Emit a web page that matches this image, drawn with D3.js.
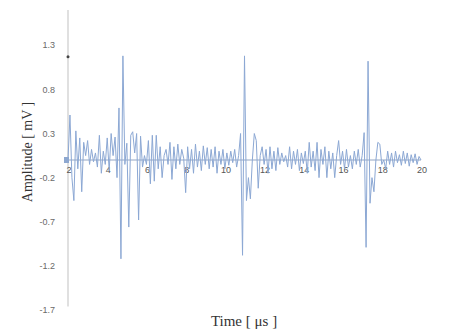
<!DOCTYPE html>
<html><head><meta charset="utf-8">
<script src="https://cdn.jsdelivr.net/npm/d3@7"></script>
<style>body{margin:0;background:#fff}svg{display:block}</style>
</head><body>
<svg id="c" width="455" height="334"></svg>
<script>
const tStart = 2, tStep = 0.1;
const amplitude = [
 0.0,0.51,-0.2,-0.46,0.33,-0.1,0.25,-0.36,0.2,0.05,
 0.22,-0.05,0.12,-0.02,0.08,-0.08,0.28,-0.15,0.1,-0.05,
 0.25,-0.12,0.3,0.05,0.26,-0.2,0.59,-1.12,1.18,-0.05,
 0.19,-0.76,0.28,0.32,0.08,0.3,-0.68,0.27,-0.08,0.05,
 -0.05,0.22,-0.27,0.28,-0.24,0.28,-0.1,0.15,-0.2,0.05,
 0.12,-0.05,0.2,-0.22,0.15,-0.1,0.18,-0.05,0.12,0.02,
 -0.37,0.15,-0.1,0.12,-0.15,0.18,-0.08,0.1,-0.12,0.16,
 -0.05,0.14,-0.1,0.12,-0.08,0.15,-0.15,0.1,-0.05,0.12,
 -0.1,0.08,-0.06,0.1,-0.03,0.12,-0.08,0.05,0.3,-1.08,
 1.18,-0.46,-0.2,-0.44,0.0,0.3,0.22,-0.32,0.05,0.15,
 -0.05,0.12,-0.15,0.15,-0.1,0.1,-0.12,0.14,-0.05,0.08,
 -0.02,0.05,-0.08,0.15,-0.1,0.1,-0.05,0.12,-0.12,0.08,
 -0.04,0.1,-0.15,0.2,-0.08,0.1,-0.12,0.2,-0.2,0.12,
 -0.05,0.15,-0.2,0.1,-0.1,0.08,-0.2,0.05,0.22,-0.05,
 0.1,-0.1,0.12,-0.08,0.05,-0.1,0.1,-0.05,0.12,-0.08,
 0.05,0.31,-0.99,1.12,-0.49,-0.2,-0.36,0.0,0.2,0.18,
 -0.05,0.0,-0.1,0.1,-0.05,0.08,-0.08,0.1,-0.03,0.06,
 -0.06,0.1,-0.04,0.08,-0.07,0.06,-0.03,0.07,-0.05,0.04,
 0.0
];
const xTicks = [2,4,6,8,10,12,14,16,18,20];
const yTicks = [1.3,0.8,0.3,-0.2,-0.7,-1.2,-1.7];
const markerValue = 1.17;
const xTitle = "Time [ μs  ]";
const yTitle = "Amplitude [ mV ]";

const svg = d3.select("#c");
const x = d3.scaleLinear().domain([2,20]).range([68,421]);
const y = d3.scaleLinear().domain([-1.7,1.7]).range([310,10]);

svg.append("line").attr("x1",x(2)).attr("x2",x(2)).attr("y1",y(1.7)).attr("y2",y(-1.66))
  .attr("stroke","#cccccc").attr("stroke-width",1.2);

svg.selectAll("text.yt").data(yTicks).enter().append("text")
  .attr("x",55).attr("y",d=>y(d)).attr("dy","0.35em").attr("text-anchor","end")
  .attr("font-family","Liberation Sans, Arial, sans-serif").attr("font-size",9)
  .attr("fill","#6a6a6a").text(d=>d);

svg.append("line").attr("x1",x(2)).attr("x2",x(20)).attr("y1",y(0)).attr("y2",y(0))
  .attr("stroke","#93a6c4").attr("stroke-width",1);

svg.selectAll("text.xt").data(xTicks).enter().append("text")
  .attr("x",d=>x(d)+1).attr("y",y(0)+13).attr("text-anchor","middle")
  .attr("font-family","Liberation Sans, Arial, sans-serif").attr("font-size",9)
  .attr("fill","#555").text(d=>d);

const data = amplitude.map((v,i)=>({t:tStart+i*tStep, v}));
const line = d3.line().x(d=>x(d.t)).y(d=>y(d.v));
svg.append("path").datum(data).attr("d",line).attr("fill","none")
  .attr("stroke","#8ca8d4").attr("stroke-width",1).attr("stroke-linejoin","round");

svg.append("rect").attr("x",x(2)-4).attr("y",y(0)-3).attr("width",5).attr("height",6)
  .attr("fill","#8ea8d0");
svg.append("circle").attr("cx",x(2)).attr("cy",y(markerValue)).attr("r",1.5).attr("fill","#444");

svg.append("text").attr("x",244).attr("y",326).attr("text-anchor","middle")
  .attr("font-family","Liberation Serif, Times New Roman, serif").attr("font-size",15)
  .attr("fill","#333").text(xTitle);
svg.append("text").attr("transform","translate(32,152) rotate(-90)").attr("text-anchor","middle")
  .attr("font-family","Liberation Serif, Times New Roman, serif").attr("font-size",14)
  .attr("fill","#333").text(yTitle);
</script>
</body></html>
